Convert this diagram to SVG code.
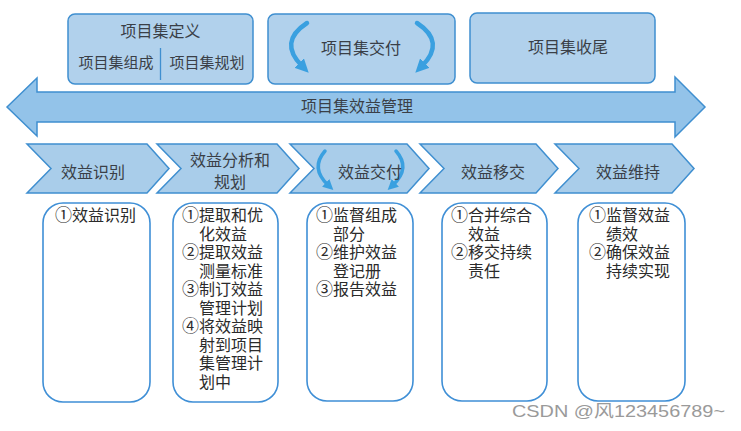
<svg xmlns="http://www.w3.org/2000/svg" width="741" height="431" viewBox="0 0 741 431">
<style>
text{font-family:"Noto Sans CJK SC","Liberation Sans",sans-serif;fill:#3a3f47;}
.top{fill:#b1d1ec;stroke:#3f8fd0;stroke-width:1.5;}
.chev{fill:#a9cdea;stroke:#3f8fd0;stroke-width:1.5;}
.card{fill:#ffffff;stroke:#3f8fd6;stroke-width:1.6;}
.curl{fill:none;stroke:#3aa0e0;stroke-width:4.5;stroke-linecap:round;}
.t16{font-size:16px;}
.t15{font-size:15px;}
.body{font-size:16px;fill:#2b2b2b;}
.num{font-size:17px;}
</style>
<defs>
<marker id="ah" viewBox="0 0 10 10" refX="3" refY="5" markerWidth="3" markerHeight="3" orient="auto" markerUnits="strokeWidth">
<path d="M0,0 L10,5 L0,10 z" fill="#3aa0e0"/>
</marker>
</defs>
<rect width="741" height="431" fill="#ffffff"/>

<g id="program-definition">
<rect class="top" x="68" y="14" width="185" height="70" rx="7"/>
<text class="t16" x="160.5" y="37" text-anchor="middle">项目集定义</text>
<line x1="160.5" y1="48" x2="160.5" y2="80" stroke="#3f8fd0" stroke-width="1.3"/>
<text class="t15" x="116" y="68" text-anchor="middle">项目集组成</text>
<text class="t15" x="207" y="68" text-anchor="middle">项目集规划</text>
</g>

<g id="program-delivery">
<rect class="top" x="268" y="14" width="187" height="70" rx="7"/>
<path class="curl" d="M307,23 Q278,42 302,66" marker-end="url(#ah)"/>
<path class="curl" d="M417,23 Q446,42 422,66" marker-end="url(#ah)"/>
<text class="t16" x="361" y="54" text-anchor="middle">项目集交付</text>
</g>

<g id="program-closure">
<rect class="top" x="470" y="13" width="185" height="70" rx="7"/>
<text class="t16" x="568" y="53" text-anchor="middle">项目集收尾</text>
</g>

<g id="benefits-management">
<polygon points="7,107 37,78 37,92 675,92 675,77 705,107 675,137 675,122 37,122 37,136" fill="#93c3e9" stroke="#3f8fd0" stroke-width="1.5"/>
<text class="t16" x="357" y="112" text-anchor="middle">项目集效益管理</text>
</g>

<g id="benefits-identification">
<polygon class="chev" points="27,144 147,144 169,168.5 147,193 27,193 51,168.5"/>
<text class="t16" x="93" y="178" text-anchor="middle">效益识别</text>
</g>

<g id="benefits-analysis">
<polygon class="chev" points="157,144 277,144 299,168.5 277,193 157,193 181,168.5"/>
<text class="t16" x="230" y="166" text-anchor="middle">效益分析和</text>
<text class="t16" x="230" y="188" text-anchor="middle">规划</text>
</g>

<g id="benefits-delivery">
<polygon class="chev" points="290,144 407,144 429,168.5 407,193 290,193 314,168.5"/>
<path class="curl" d="M325,151 Q310,168 328,185" marker-end="url(#ah)" style="stroke-width:3.5"/>
<path class="curl" d="M396,151 Q411,168 393,185" marker-end="url(#ah)" style="stroke-width:3.5"/>
<text class="t16" x="370" y="178" text-anchor="middle">效益交付</text>
</g>

<g id="benefits-transition">
<polygon class="chev" points="420,144 536,144 558,168.5 536,193 420,193 444,168.5"/>
<text class="t16" x="493" y="178" text-anchor="middle">效益移交</text>
</g>

<g id="benefits-sustainment">
<polygon class="chev" points="555,144 672,144 694,168.5 672,193 555,193 579,168.5"/>
<text class="t16" x="628" y="178" text-anchor="middle">效益维持</text>
</g>

<g id="card-identification">
<rect class="card" x="43" y="203" width="107" height="199" rx="20"/>
<text class="body"><tspan class="num" x="55" y="221">①</tspan><tspan x="72" y="221">效益识别</tspan></text>
</g>

<g id="card-analysis">
<rect class="card" x="173" y="203" width="105" height="199" rx="20"/>
<text class="body">
<tspan class="num" x="182" y="221">①</tspan><tspan x="199" y="221">提取和优</tspan>
<tspan x="199" y="239.5">化效益</tspan>
<tspan class="num" x="182" y="258">②</tspan><tspan x="199" y="258">提取效益</tspan>
<tspan x="199" y="276.5">测量标准</tspan>
<tspan class="num" x="182" y="295">③</tspan><tspan x="199" y="295">制订效益</tspan>
<tspan x="199" y="313.5">管理计划</tspan>
<tspan class="num" x="182" y="332">④</tspan><tspan x="199" y="332">将效益映</tspan>
<tspan x="199" y="350.5">射到项目</tspan>
<tspan x="199" y="369">集管理计</tspan>
<tspan x="199" y="387.5">划中</tspan>
</text>
</g>

<g id="card-delivery">
<rect class="card" x="307" y="203" width="106" height="198" rx="20"/>
<text class="body">
<tspan class="num" x="316" y="221">①</tspan><tspan x="333" y="221">监督组成</tspan>
<tspan x="333" y="239.5">部分</tspan>
<tspan class="num" x="316" y="258">②</tspan><tspan x="333" y="258">维护效益</tspan>
<tspan x="333" y="276.5">登记册</tspan>
<tspan class="num" x="316" y="295">③</tspan><tspan x="333" y="295">报告效益</tspan>
</text>
</g>

<g id="card-transition">
<rect class="card" x="442" y="203" width="105" height="198" rx="20"/>
<text class="body">
<tspan class="num" x="451" y="221">①</tspan><tspan x="468" y="221">合并综合</tspan>
<tspan x="468" y="239.5">效益</tspan>
<tspan class="num" x="451" y="258">②</tspan><tspan x="468" y="258">移交持续</tspan>
<tspan x="468" y="276.5">责任</tspan>
</text>
</g>

<g id="card-sustainment">
<rect class="card" x="578" y="203" width="107" height="198" rx="20"/>
<text class="body">
<tspan class="num" x="589" y="221">①</tspan><tspan x="606" y="221">监督效益</tspan>
<tspan x="606" y="239.5">绩效</tspan>
<tspan class="num" x="589" y="258">②</tspan><tspan x="606" y="258">确保效益</tspan>
<tspan x="606" y="276.5">持续实现</tspan>
</text>
</g>

<text x="512" y="417" textLength="213" lengthAdjust="spacingAndGlyphs" style="font-size:17px;fill:#9a9a9a;font-family:'Liberation Sans','Noto Sans CJK SC',sans-serif">CSDN @风123456789~</text>
</svg>
